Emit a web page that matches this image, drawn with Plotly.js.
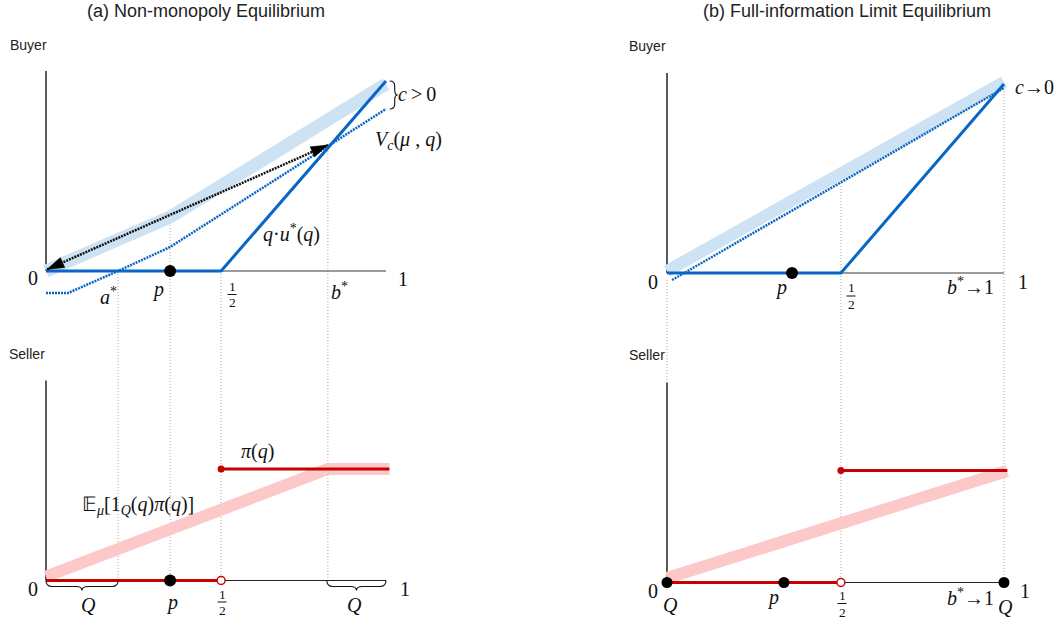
<!DOCTYPE html>
<html><head><meta charset="utf-8">
<script src="https://cdn.plot.ly/plotly-3.0.1.min.js"></script>
<style>html,body{margin:0;padding:0;background:#fff}#chart{width:1060px;height:627px}</style>
</head><body><div id="chart"></div>
<script>
// ---------- DATA (q on horizontal axis, value on vertical axis) ----------
// Panel (a) Non-monopoly equilibrium - Buyer
const aBuyerBandQ = [0, 0.365, 1.0];
const aBuyerBandV = [0, 0.27, 0.935];
const aBuyerVcQ   = [0, 0.065, 0.212, 0.365, 1.0];
const aBuyerVcV   = [-0.11, -0.11, 0, 0.12, 0.81];
const aBuyerQuQ   = [0, 0.515, 1.0];
const aBuyerQuV   = [0, 0, 0.95];
const aArrowQ     = [0.003, 0.829];
const aArrowV     = [0.008, 0.63];
const aPointQ     = [0.365];
const aPointV     = [0];
// key q positions: a*, p, 1/2, b*
const aKeyQ       = [0.212, 0.365, 0.515, 0.829];
const aKeyTopV    = [0, 0.29, 0, 0.63];
// Panel (a) - Seller
const aSellerBandQ = [0, 0.829, 1.01];
const aSellerBandV = [0.02, 0.5575, 0.5575];
const aPiLowQ  = [0, 0.515];
const aPiLowV  = [0, 0];
const aPiHighQ = [0.515, 1.01];
const aPiHighV = [0.5575, 0.5575];
const aSellerDotQ = [0.365];
const aSellerDotV = [0];
const aQSetLeft  = [0, 0.212];
const aQSetRight = [0.826, 1.0];

// Panel (b) Full-information limit - Buyer
const bBuyerBandQ = [0, 1.0];
const bBuyerBandV = [0.01, 0.955];
const bBuyerVcQ   = [0.015, 1.0];
const bBuyerVcV   = [-0.035, 0.925];
const bBuyerQuQ   = [0, 0.516, 1.0];
const bBuyerQuV   = [0, 0, 0.945];
const bPointQ     = [0.371];
const bPointV     = [0];
const bKeyQ       = [0, 0.516, 1.0];
const bKeyTopV    = [-0.035, 0.45, 0.925];
// Panel (b) - Seller
const bSellerBandQ = [0, 1.009];
const bSellerBandV = [0.0225, 0.5575];
const bPiLowQ  = [0, 0.516];
const bPiLowV  = [0, 0];
const bPiHighQ = [0.516, 1.01];
const bPiHighV = [0.56, 0.56];
const bSellerDotQ = [0, 0.347, 1.0];
const bSellerDotV = [0, 0, 0];

// ---------- STYLE / GEOMETRY ----------
const W = 1060, H = 627;
const SERIF = '"Liberation Serif","Times New Roman",serif';
const SANS = '"Liberation Sans",Arial,sans-serif';
const BLUE = '#0866c6', BAND_BLUE = '#cde2f3', RED = '#c80000', BAND_RED = '#fcc8c8', GUIDE = '#a8a8a8';
const GEO = {
  x:  {p0: 46,    s: 340, d: [20, 440]},
  x2: {p0: 667,   s: 337, d: [640, 1055]},
  y:  {p0: 271,   s: 200, d: [55, 312]},
  y2: {p0: 580.5, s: 200, d: [366, 622]},
  y3: {p0: 273,   s: 200, d: [55, 312]},
  y4: {p0: 582.5, s: 200, d: [366, 622]}
};
function xAxis(k, anchor){const g=GEO[k];return {domain:[g.d[0]/W,g.d[1]/W],range:[(g.d[0]-g.p0)/g.s,(g.d[1]-g.p0)/g.s],visible:false,fixedrange:true,anchor:anchor};}
function yAxis(k, anchor){const g=GEO[k];return {domain:[1-g.d[1]/H,1-g.d[0]/H],range:[(g.p0-g.d[1])/g.s,(g.p0-g.d[0])/g.s],visible:false,fixedrange:true,anchor:anchor};}
function paperY(k, v){return 1-(GEO[k].p0 - v*GEO[k].s)/H;}

const traces = [];
function line(xa, ya, xs, ys, color, width, dash){
  traces.push({type:'scatter',mode:'lines',xaxis:xa,yaxis:ya,x:xs,y:ys,line:{color:color,width:width,dash:dash||'solid'},hoverinfo:'skip'});
}
function dots(xa, ya, xs, ys, color, size, lineColor, lineWidth){
  traces.push({type:'scatter',mode:'markers',xaxis:xa,yaxis:ya,x:xs,y:ys,cliponaxis:false,
    marker:{color:color,size:size,line:{color:lineColor||color,width:lineWidth||0}},hoverinfo:'skip'});
}

// Panel (a) buyer
line('x','y',aBuyerBandQ,aBuyerBandV,BAND_BLUE,13);
line('x','y',aBuyerVcQ,aBuyerVcV,BLUE,2.5,'2px,1px');
line('x','y',aBuyerQuQ,aBuyerQuV,BLUE,3);
line('x','y',aArrowQ,aArrowV,'#111',2.5,'2px,1px');
dots('x','y',aPointQ,aPointV,'#000',12);
// Panel (a) seller
line('x','y2',aSellerBandQ,aSellerBandV,BAND_RED,12);
line('x','y2',aPiLowQ,aPiLowV,RED,3);
line('x','y2',aPiHighQ,aPiHighV,RED,3);
dots('x','y2',[aPiHighQ[0]],[aPiHighV[0]],RED,7);
dots('x','y2',[aPiLowQ[1]],[aPiLowV[1]],'#fff',8,RED,1.5);
dots('x','y2',aSellerDotQ,aSellerDotV,'#000',12);
// Panel (b) buyer
line('x2','y3',bBuyerBandQ,bBuyerBandV,BAND_BLUE,12);
line('x2','y3',bBuyerVcQ,bBuyerVcV,BLUE,2.5,'2px,1px');
line('x2','y3',bBuyerQuQ,bBuyerQuV,BLUE,3);
dots('x2','y3',bPointQ,bPointV,'#000',12);
// Panel (b) seller
line('x2','y4',bSellerBandQ,bSellerBandV,BAND_RED,12);
line('x2','y4',bPiLowQ,bPiLowV,RED,3);
line('x2','y4',bPiHighQ,bPiHighV,RED,3);
dots('x2','y4',[bPiHighQ[0]],[bPiHighV[0]],RED,7);
dots('x2','y4',[bPiLowQ[1]],[bPiLowV[1]],'#fff',8,RED,1.5);
dots('x2','y4',bSellerDotQ,bSellerDotV,'#000',11);

// ---------- SHAPES ----------
const shapes = [];
function seg(xr, yr, x0, y0, x1, y1, color, width, dash, layer){
  shapes.push({type:'line',xref:xr,yref:yr,x0:x0,y0:y0,x1:x1,y1:y1,line:{color:color,width:width,dash:dash||'solid'},layer:layer||'below'});
}
// axes
seg('x','y',0,0,0,1,'#000',1.3);           seg('x','y',0,0,1,0,'#7a7a7a',1.5);
seg('x','y2',0,0,0,1,'#000',1.3);          seg('x','y2',0,0,1,0,'#222',1.2);
seg('x2','y3',0,0,0,1,'#000',1.3);         seg('x2','y3',0,0,1,0,'#7a7a7a',1.5);
seg('x2','y4',0,0,0,1,'#000',1.3);         seg('x2','y4',0,0,1,0,'#222',1.2);
// guide lines linking buyer and seller panels
aKeyQ.forEach((q,i)=>seg('x','paper',q,paperY('y',aKeyTopV[i]),q,paperY('y2',0),GUIDE,1,'1px,2px'));
bKeyQ.forEach((q,i)=>seg('x2','paper',q,paperY('y3',bKeyTopV[i]),q,paperY('y4',i===0?1:0),GUIDE,1,'1px,2px'));

// arrow heads
function arrowHead(xr, yr, tipX, tipY, fromX, fromY, L, hw){
  const gx=GEO[xr], gy=GEO[yr];
  const dx=(tipX-fromX)*gx.s, dy=(tipY-fromY)*gy.s, len=Math.hypot(dx,dy);
  const ux=dx/len, uy=dy/len, bx=-ux*L, by=-uy*L, nx=-uy*hw, ny=ux*hw;
  const p1=[tipX+(bx+nx)/gx.s, tipY+(by+ny)/gy.s], p2=[tipX+(bx-nx)/gx.s, tipY+(by-ny)/gy.s];
  shapes.push({type:'path',xref:xr,yref:yr,path:`M${tipX},${tipY} L${p1[0]},${p1[1]} L${p2[0]},${p2[1]} Z`,fillcolor:'#000',line:{color:'#000',width:0.5},layer:'above'});
}
arrowHead('x','y',aArrowQ[1],aArrowV[1],aArrowQ[0],aArrowV[0],17,5.5);
arrowHead('x','y',aArrowQ[0],aArrowV[0],aArrowQ[1],aArrowV[1],17,5.5);

// horizontal curly brace under the q-axis
function hBrace(xr, yr, x0, x1, y0){
  const gx=GEO[xr], gy=GEO[yr];
  const h=6/gy.s, t=4/gy.s, r=6/gx.s, xm=(x0+x1)/2, y1=y0-h, y2=y1-t;
  const path=`M${x0},${y0} Q${x0},${y1} ${x0+r},${y1} L${xm-r},${y1} Q${xm},${y1} ${xm},${y2} Q${xm},${y1} ${xm+r},${y1} L${x1-r},${y1} Q${x1},${y1} ${x1},${y0}`;
  shapes.push({type:'path',xref:xr,yref:yr,path:path,line:{color:'#111',width:1.1},layer:'above'});
}
hBrace('x','y2',aQSetLeft[0],aQSetLeft[1],0);
hBrace('x','y2',aQSetRight[0],aQSetRight[1],0);
// vertical brace marking c
function vBrace(xr, yr, x, yTop, yBot){
  const gx=GEO[xr], gy=GEO[yr];
  const w=5/gx.s, t=3/gx.s, r=5/gy.s, ym=(yTop+yBot)/2, x1=x+w, x2=x1+t;
  const path=`M${x},${yTop} Q${x1},${yTop} ${x1},${yTop-r} L${x1},${ym+r} Q${x1},${ym} ${x2},${ym} Q${x1},${ym} ${x1},${ym-r} L${x1},${yBot+r} Q${x1},${yBot} ${x},${yBot}`;
  shapes.push({type:'path',xref:xr,yref:yr,path:path,line:{color:'#111',width:1.1},layer:'above'});
}
vBrace('x','y',1.005+2/340,aBuyerQuV[2],aBuyerVcV[4]);

// ---------- TEXT ----------
const annotations = [];
function T(px, py, text, size, family, color){
  annotations.push({xref:'paper',yref:'paper',x:px/W,y:1-py/H,text:text,showarrow:false,xanchor:'center',yanchor:'middle',
    font:{family:family||SERIF,size:size||20,color:color||'#111'}});
}
function frac(cx, yNum, yBar, yDen){
  T(cx, yNum, '1', 13.5); T(cx, yDen, '2', 13.5);
  shapes.push({type:'line',xref:'paper',yref:'paper',x0:(cx-4.5)/W,x1:(cx+4.5)/W,y0:1-yBar/H,y1:1-yBar/H,line:{color:'#111',width:1}});
}
// titles & headers
T(206, 10.5, '(a) Non-monopoly Equilibrium', 18, SANS, '#222');
T(847, 10.5, '(b) Full-information Limit Equilibrium', 18, SANS, '#222');
T(28, 45, 'Buyer', 14, SANS, '#222');
T(27, 354, 'Seller', 14, SANS, '#222');
T(647, 46, 'Buyer', 14, SANS, '#222');
T(647, 355, 'Seller', 14, SANS, '#222');
// panel (a) buyer
T(33, 278, '0'); T(403, 279, '1');
T(108, 296, '<i>a</i><sup>*</sup>');
T(158, 289, '<i>p</i>');
frac(232, 286.5, 294.5, 302.5);
T(339, 291, '<i>b</i><sup>*</sup>');
T(291, 233, '<i>q</i>·<i>u</i><sup>*</sup>(<i>q</i>)');
T(408, 140, '<i>V</i><sub><i>c</i></sub>(<i>μ</i> , <i>q</i>)');
T(417, 94, '<i>c</i>\u2009>\u20090');
// panel (a) seller
T(33, 589, '0'); T(405, 589, '1');
T(88, 605, '<i>Q</i>');
T(172, 602, '<i>p</i>');
frac(222, 594, 602, 610);
T(354, 605, '<i>Q</i>');
T(257, 452, '<i>π</i>(<i>q</i>)');
T(138, 505, '𝔼<sub><i>μ</i></sub>[1<sub><i>Q</i></sub>(<i>q</i>)<i>π</i>(<i>q</i>)]');
// panel (b) buyer
T(653, 282, '0'); T(1023, 282, '1');
T(781, 288, '<i>p</i>');
frac(851, 288, 296, 304);
T(970, 286, '<i>b</i><sup>*</sup>→1');
T(1034, 87, '<i>c</i>→0');
// panel (b) seller
T(652.5, 591, '0'); T(1025, 591, '1');
T(670, 605, '<i>Q</i>');
T(773, 597, '<i>p</i>');
frac(842, 595.5, 603.5, 612);
T(970, 597, '<i>b</i><sup>*</sup>→1');
T(1005, 607, '<i>Q</i>');

const layout = {
  width: W, height: H, margin: {l:0,r:0,t:0,b:0},
  paper_bgcolor: '#fff', plot_bgcolor: 'rgba(0,0,0,0)', showlegend: false,
  xaxis: xAxis('x','y'), xaxis2: xAxis('x2','y3'),
  yaxis: yAxis('y','x'), yaxis2: yAxis('y2','x'), yaxis3: yAxis('y3','x2'), yaxis4: yAxis('y4','x2'),
  shapes: shapes, annotations: annotations
};
Plotly.newPlot('chart', traces, layout, {staticPlot:true, displayModeBar:false});
</script></body></html>
